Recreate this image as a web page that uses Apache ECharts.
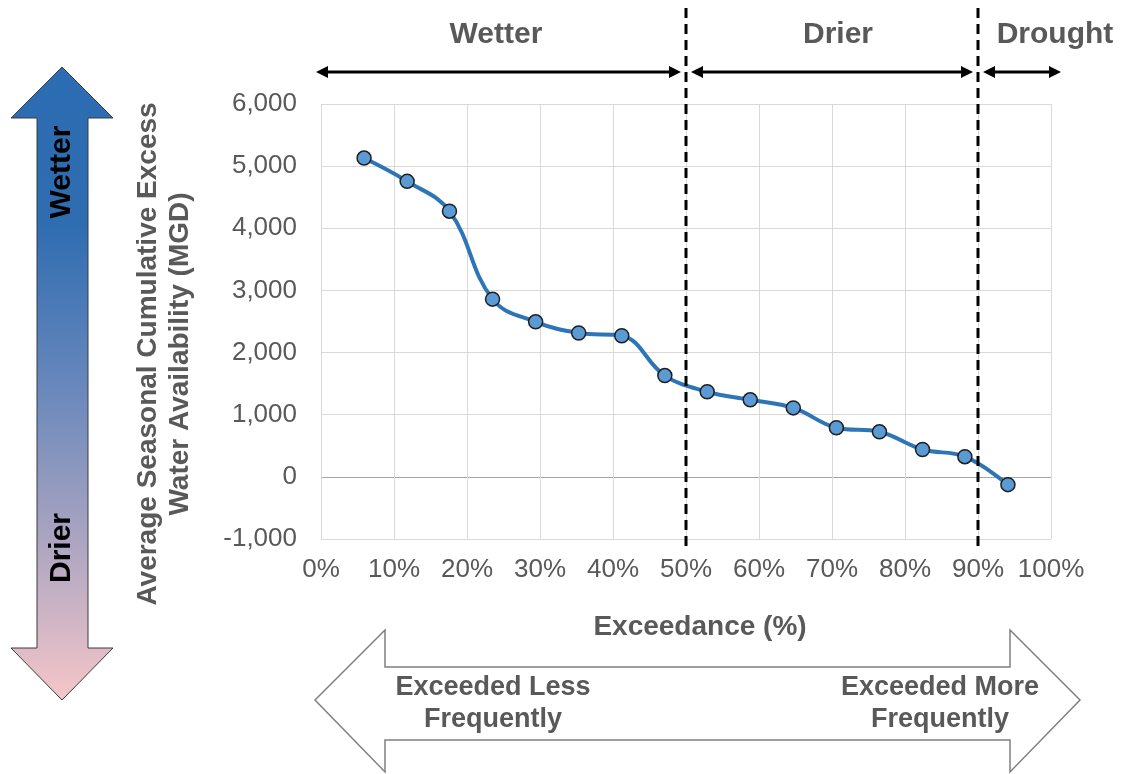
<!DOCTYPE html>
<html>
<head>
<meta charset="utf-8">
<script src="https://cdn.jsdelivr.net/npm/echarts@6/dist/echarts.min.js"></script>
<style>
  html, body { margin: 0; padding: 0; background: #fff; }
  #chart { width: 1121px; height: 774px; }
</style>
</head>
<body>
<div id="chart"></div>
<script>
// Exceedance probability (%) of each season and its average cumulative excess water (MGD)
const exceedance = [5.9, 11.8, 17.6, 23.5, 29.4, 35.3, 41.2, 47.1, 52.9, 58.8, 64.7, 70.6, 76.5, 82.4, 88.2, 94.1];
const availability = [5130, 4755, 4275, 2860, 2495, 2315, 2270, 1630, 1370, 1240, 1110, 790, 725, 440, 325, -125];

// Condition class boundaries on the exceedance axis (%)
const classBreaks = [50, 90];
const classLabels = ['Wetter', 'Drier', 'Drought'];

const FONT = "'Liberation Sans', Arial, Helvetica, sans-serif";
const GREY = '#595959';

const chart = echarts.init(document.getElementById('chart'), null, { renderer: 'canvas' });

// y-axis ticks run -1000..6000; the zero line is drawn darker
const yTicks = [];
for (let v = -1000; v <= 6000; v += 1000) yTicks.push(v);
const ySplitColors = yTicks.map(v => (v === 0 ? '#A6A6A6' : '#D9D9D9'));

chart.setOption({
  animation: false,
  backgroundColor: '#ffffff',
  grid: { left: 321, top: 104, right: 70, bottom: 235, containLabel: false },
  xAxis: {
    type: 'value',
    min: 0, max: 100, interval: 10,
    axisLine: { show: false },
    axisTick: { show: false },
    splitLine: { show: true, lineStyle: { color: '#D9D9D9', width: 1 } },
    axisLabel: {
      formatter: '{value}%', color: GREY, fontSize: 26, fontFamily: FONT, margin: 18
    }
  },
  yAxis: {
    type: 'value',
    min: -1000, max: 6000, interval: 1000,
    axisLine: { show: false },
    axisTick: { show: false },
    splitLine: { show: true, lineStyle: { color: ySplitColors, width: 1 } },
    axisLabel: {
      formatter: v => v.toLocaleString('en-US'),
      color: GREY, fontSize: 26, fontFamily: FONT, margin: 24
    }
  },
  series: [{
    type: 'line',
    data: exceedance.map((x, i) => [x, availability[i]]),
    smooth: 0.4,
    symbol: 'circle',
    symbolSize: 14,
    lineStyle: { color: '#2E75B6', width: 4 },
    itemStyle: { color: '#5B9BD5', borderColor: '#1F1F1F', borderWidth: 1.5 },
    z: 3
  }]
});

// ---- annotations ----
function px(x, y) { return chart.convertToPixel({ gridIndex: 0 }, [x, y]); }

function textEl(str, x, y, opts) {
  return Object.assign({
    type: 'text', x: x, y: y, silent: true,
    style: Object.assign({
      text: str, fill: GREY, fontFamily: FONT, fontWeight: 'bold', fontSize: 28,
      textAlign: 'center', textVerticalAlign: 'middle'
    }, (opts && opts.style) || {})
  }, (opts && opts.el) || {});
}

// double-headed horizontal arrow drawn as a shaft plus two filled heads
function doubleArrow(x1, x2, y) {
  const L = 12, W = 6;
  return {
    type: 'group', silent: true,
    children: [
      { type: 'line', shape: { x1: x1 + L - 2, y1: y, x2: x2 - L + 2, y2: y }, style: { stroke: '#000', lineWidth: 3 } },
      { type: 'polygon', shape: { points: [[x1, y], [x1 + L, y - W], [x1 + L, y + W]] }, style: { fill: '#000' } },
      { type: 'polygon', shape: { points: [[x2, y], [x2 - L, y - W], [x2 - L, y + W]] }, style: { fill: '#000' } }
    ]
  };
}

const breakX = classBreaks.map(b => px(b, 0)[0]);
const plotRight = px(100, 0)[0];
const arrowY = 72;

const graphics = [];

// vertical dashed class boundaries
breakX.forEach(x => {
  graphics.push({
    type: 'line', silent: true, z: 10,
    shape: { x1: x, y1: 8, x2: x, y2: 548 },
    style: { stroke: '#000', lineWidth: 3, lineDash: [10, 6] }
  });
});

// class span arrows and their labels
const spans = [[316, breakX[0] - 5], [breakX[0] + 5, breakX[1] - 5], [breakX[1] + 5, plotRight + 10]];
spans.forEach((s, i) => graphics.push(doubleArrow(s[0], s[1], arrowY)));
graphics.push(textEl(classLabels[0], 496, 35, { style: { fontSize: 30 } }));
graphics.push(textEl(classLabels[1], 838, 35, { style: { fontSize: 30 } }));
graphics.push(textEl(classLabels[2], 1055, 35, { style: { fontSize: 30 } }));

// left gradient block arrow (wetter at top, drier at bottom)
graphics.push({
  type: 'polygon', silent: true,
  shape: {
    points: [[62, 67], [113, 118], [88, 118], [88, 648], [113, 648], [62, 700],
             [11, 648], [37, 648], [37, 118], [11, 118]]
  },
  style: {
    fill: {
      type: 'linear', x: 0, y: 0, x2: 0, y2: 1,
      colorStops: [
        { offset: 0.0, color: '#2C6CB2' },
        { offset: 0.25, color: '#2F6DB1' },
        { offset: 0.5, color: '#6787BC' },
        { offset: 0.72, color: '#A3A1C0' },
        { offset: 1.0, color: '#F6C6C9' }
      ]
    },
    stroke: '#3A3A3A', lineWidth: 1
  }
});
graphics.push(textEl('Wetter', 62, 172, { style: { fill: '#000', fontSize: 30 }, el: { rotation: Math.PI / 2 } }));
graphics.push(textEl('Drier', 62, 548, { style: { fill: '#000', fontSize: 30 }, el: { rotation: Math.PI / 2 } }));

// y-axis title
graphics.push(textEl('Average Seasonal Cumulative Excess\nWater Availability (MGD)', 164, 354,
  { style: { fontSize: 28, lineHeight: 32 }, el: { rotation: Math.PI / 2 } }));

// x-axis title
graphics.push(textEl('Exceedance (%)', 700, 627, { style: { fontSize: 28 } }));

// bottom outlined block arrow
graphics.push({
  type: 'polygon', silent: true,
  shape: {
    points: [[315, 700], [385, 630], [385, 667], [1010, 667], [1010, 630], [1080, 700],
             [1010, 772], [1010, 740], [385, 740], [385, 772]]
  },
  style: { fill: '#ffffff', stroke: '#7F7F7F', lineWidth: 1.5 }
});
graphics.push(textEl('Exceeded Less\nFrequently', 493, 704, { style: { fontSize: 27, lineHeight: 32 } }));
graphics.push(textEl('Exceeded More\nFrequently', 940, 704, { style: { fontSize: 27, lineHeight: 32 } }));

chart.setOption({ graphic: { elements: graphics } });
</script>
</body>
</html>
